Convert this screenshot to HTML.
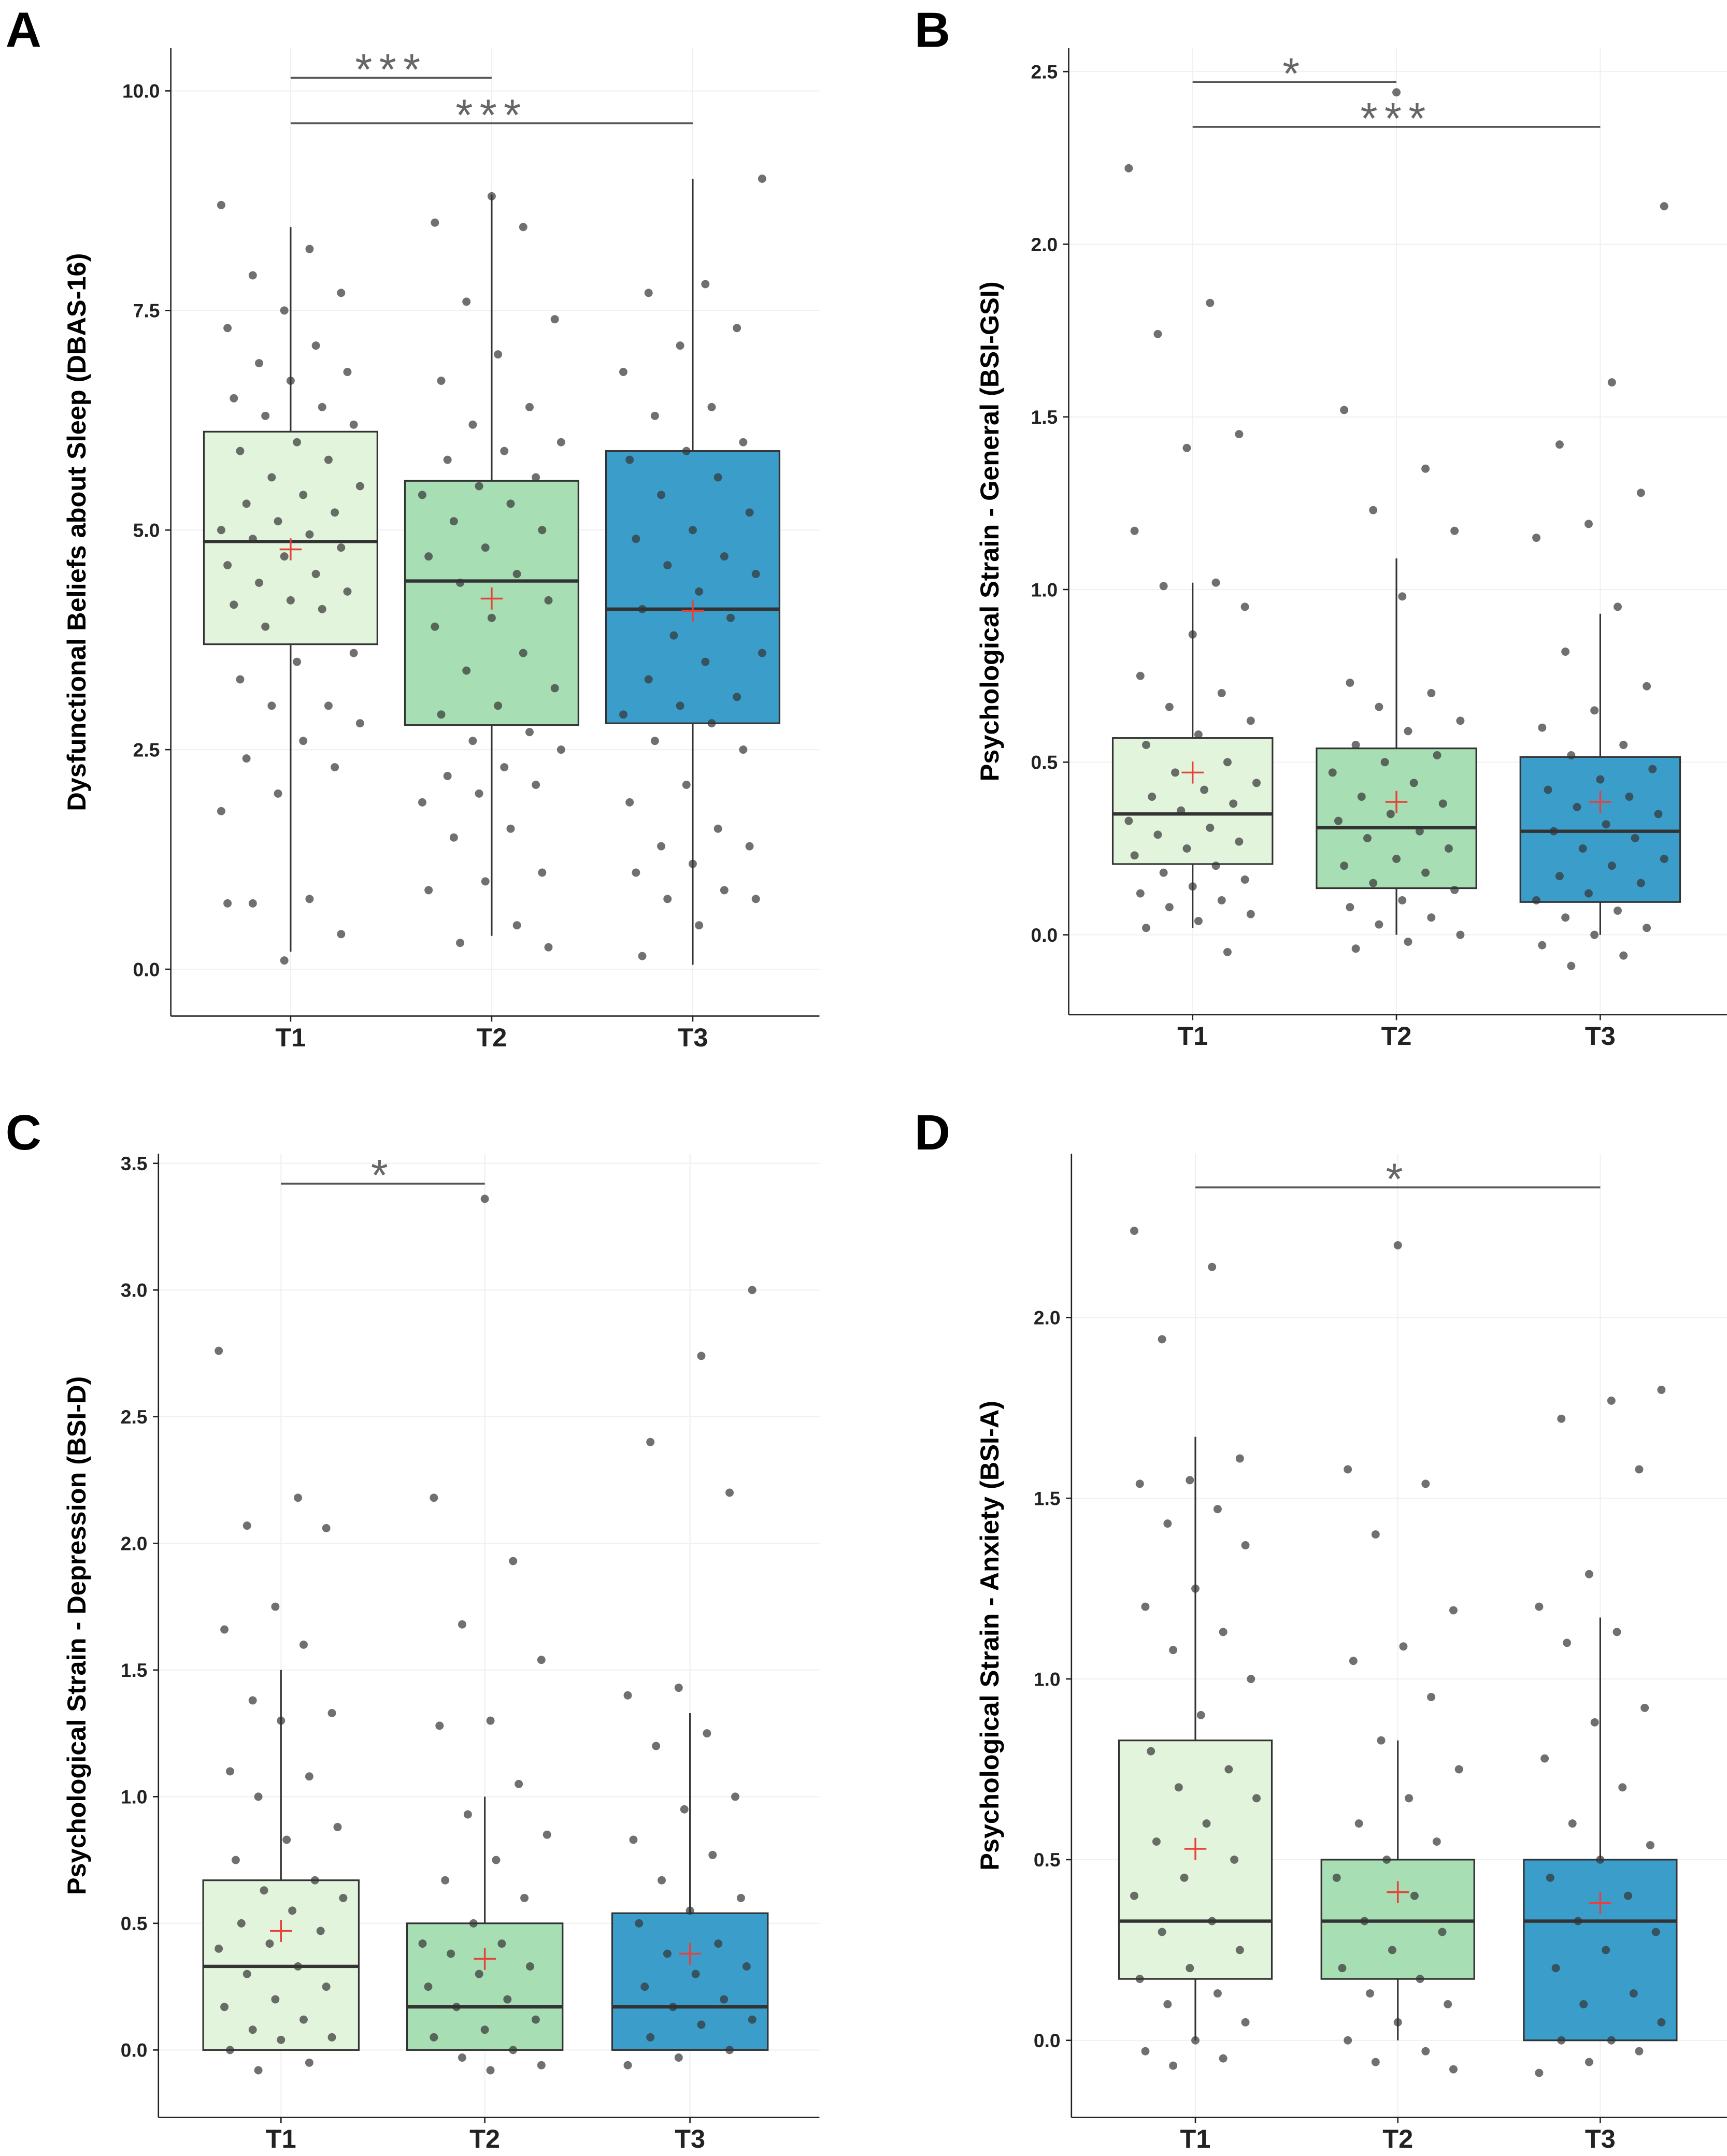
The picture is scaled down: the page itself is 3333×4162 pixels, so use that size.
<!DOCTYPE html>
<html><head><meta charset="utf-8">
<style>
html,body{margin:0;padding:0;background:#fff;}
svg{display:block;}
text{font-family:"Liberation Sans",sans-serif;}
</style></head>
<body>
<svg id="chart" width="3333" height="4162" viewBox="0 0 1254 1566" xmlns="http://www.w3.org/2000/svg"></svg>
<script>
// ---- data ----
const categories = ["T1","T2","T3"];
const fills = ["#e2f5dc","#a7deb4","#3b9dca"];

// Panel A: DBAS-16
const aTicks = [0,2.5,5,7.5,10];
const aTickLabels = ["0.0","2.5","5.0","7.5","10.0"];
const aQ1 = [3.7,2.78,2.8];
const aMedian = [4.87,4.42,4.1];
const aQ3 = [6.12,5.56,5.9];
const aWhiskLo = [0.2,0.38,0.05];
const aWhiskHi = [8.45,8.82,9.0];
const aMean = [4.78,4.22,4.08];
const aPtsT1 = [8.7,8.2,7.9,7.7,7.5,7.3,7.1,6.9,6.8,6.7,6.5,6.4,6.3,6.2,6.0,5.9,5.8,5.6,5.5,5.4,5.3,5.2,5.1,5.0,4.95,4.9,4.8,4.7,4.6,4.5,4.4,4.3,4.2,4.15,4.1,3.9,3.6,3.5,3.3,3.0,3.0,2.8,2.6,2.4,2.3,2.0,1.8,0.8,0.75,0.4,0.1,0.75];
const aPtsT2 = [8.8,8.5,8.45,7.6,7.4,7.0,6.7,6.4,6.2,6.0,5.9,5.8,5.6,5.5,5.4,5.3,5.1,5.0,4.8,4.7,4.5,4.4,4.2,4.0,3.9,3.6,3.4,3.2,3.0,2.9,2.7,2.6,2.5,2.3,2.2,2.1,2.0,1.9,1.6,1.5,1.1,1.0,0.9,0.5,0.3,0.25];
const aPtsT3 = [9.0,7.8,7.7,7.3,7.1,6.8,6.4,6.3,6.0,5.9,5.8,5.6,5.4,5.2,5.0,4.9,4.7,4.6,4.5,4.3,4.1,4.0,3.8,3.6,3.5,3.3,3.1,3.0,2.9,2.8,2.6,2.5,2.1,1.9,1.6,1.4,1.4,1.2,1.1,0.9,0.8,0.8,0.5,0.15];
const aSig = [[0,1,10.15,"***"],[0,2,9.63,"***"]];

// Panel B: BSI-GSI
const bTicks = [0,0.5,1,1.5,2,2.5];
const bTickLabels = ["0.0","0.5","1.0","1.5","2.0","2.5"];
const bQ1 = [0.205,0.135,0.095];
const bMedian = [0.35,0.31,0.30];
const bQ3 = [0.57,0.54,0.515];
const bWhiskLo = [0.02,0.0,0.0];
const bWhiskHi = [1.02,1.09,0.93];
const bMean = [0.47,0.385,0.385];
const bPtsT1 = [2.22,1.83,1.74,1.45,1.41,1.17,1.02,1.01,0.95,0.87,0.75,0.7,0.66,0.62,0.58,0.55,0.5,0.47,0.44,0.42,0.4,0.38,0.36,0.33,0.31,0.29,0.27,0.25,0.23,0.2,0.18,0.16,0.14,0.12,0.1,0.08,0.06,0.04,0.02,-0.05];
const bPtsT2 = [2.44,1.52,1.35,1.23,1.17,0.98,0.73,0.7,0.66,0.62,0.59,0.55,0.52,0.5,0.47,0.44,0.4,0.38,0.35,0.33,0.3,0.28,0.25,0.22,0.2,0.18,0.15,0.13,0.1,0.08,0.05,0.03,0.0,-0.02,-0.04];
const bPtsT3 = [2.11,1.6,1.42,1.28,1.19,1.15,0.95,0.82,0.72,0.65,0.6,0.55,0.52,0.48,0.45,0.42,0.4,0.37,0.35,0.32,0.3,0.28,0.25,0.22,0.2,0.17,0.15,0.12,0.1,0.07,0.05,0.02,0.0,-0.03,-0.06,-0.09];
const bSig = [[0,1,2.47,"*"],[0,2,2.34,"***"]];

// Panel C: BSI-D
const cTicks = [0,0.5,1,1.5,2,2.5,3,3.5];
const cTickLabels = ["0.0","0.5","1.0","1.5","2.0","2.5","3.0","3.5"];
const cQ1 = [0,0,0];
const cMedian = [0.33,0.17,0.17];
const cQ3 = [0.67,0.5,0.54];
const cWhiskLo = [0,0,0];
const cWhiskHi = [1.5,1.0,1.33];
const cMean = [0.47,0.36,0.38];
const cPtsT1 = [2.76,2.18,2.07,2.06,1.75,1.66,1.6,1.38,1.33,1.3,1.1,1.08,1.0,0.88,0.83,0.75,0.67,0.63,0.6,0.55,0.5,0.47,0.42,0.4,0.33,0.3,0.25,0.2,0.17,0.12,0.08,0.05,0.04,0.0,-0.05,-0.08];
const cPtsT2 = [3.36,2.18,1.93,1.68,1.54,1.3,1.28,1.05,0.93,0.85,0.75,0.67,0.6,0.5,0.42,0.42,0.38,0.33,0.3,0.25,0.2,0.17,0.12,0.08,0.05,0.0,-0.03,-0.06,-0.08];
const cPtsT3 = [3.0,2.74,2.4,2.2,1.43,1.4,1.25,1.2,1.0,0.95,0.83,0.77,0.67,0.6,0.55,0.5,0.42,0.38,0.33,0.3,0.25,0.2,0.17,0.12,0.1,0.05,0.0,-0.03,-0.06];
const cSig = [[0,1,3.42,"*"]];

// Panel D: BSI-A
const dTicks = [0,0.5,1,1.5,2];
const dTickLabels = ["0.0","0.5","1.0","1.5","2.0"];
const dQ1 = [0.17,0.17,0];
const dMedian = [0.33,0.33,0.33];
const dQ3 = [0.83,0.5,0.5];
const dWhiskLo = [0,0,0];
const dWhiskHi = [1.67,0.83,1.17];
const dMean = [0.53,0.41,0.38];
const dPtsT1 = [2.24,2.14,1.94,1.61,1.55,1.54,1.47,1.43,1.37,1.25,1.2,1.13,1.08,1.0,0.9,0.8,0.75,0.7,0.67,0.6,0.55,0.5,0.45,0.4,0.33,0.3,0.25,0.2,0.17,0.13,0.1,0.05,0.0,-0.03,-0.05,-0.07];
const dPtsT2 = [2.2,1.58,1.54,1.4,1.19,1.09,1.05,0.95,0.83,0.75,0.67,0.6,0.55,0.5,0.45,0.4,0.33,0.3,0.25,0.2,0.17,0.13,0.1,0.05,0.0,-0.03,-0.06,-0.08];
const dPtsT3 = [1.8,1.77,1.72,1.58,1.29,1.2,1.13,1.1,0.92,0.88,0.78,0.7,0.6,0.54,0.5,0.45,0.4,0.33,0.3,0.25,0.2,0.13,0.1,0.05,0.0,0.0,-0.03,-0.06,-0.09];
const dSig = [[0,2,2.36,"*"]];

// ---- layout ----
const NS = "http://www.w3.org/2000/svg";
const svg = document.getElementById("chart");
function mk(tag, attrs, parent){
  const e = document.createElementNS(NS, tag);
  for (const k in attrs) e.setAttribute(k, attrs[k]);
  (parent||svg).appendChild(e);
  return e;
}

const panels = [
 {id:"a",letter:"A",lx:4,ly:34,axX:124,top:35,bottom:738,right:595,v0:0,p0:704,v1:10,p1:66,cx:[211,357,503],bw:126,
  ylabel:"Dysfunctional Beliefs about Sleep (DBAS-16)",ylx:62,
  ticks:aTicks,tl:aTickLabels,q1:aQ1,med:aMedian,q3:aQ3,wl:aWhiskLo,wh:aWhiskHi,mean:aMean,pts:[aPtsT1,aPtsT2,aPtsT3],sig:aSig},
 {id:"b",letter:"B",lx:664,ly:34,axX:776,top:35,bottom:737,right:1254,v0:0,p0:679,v1:2.5,p1:52,cx:[866,1014,1162],bw:116,
  ylabel:"Psychological Strain - General (BSI-GSI)",ylx:725,
  ticks:bTicks,tl:bTickLabels,q1:bQ1,med:bMedian,q3:bQ3,wl:bWhiskLo,wh:bWhiskHi,mean:bMean,pts:[bPtsT1,bPtsT2,bPtsT3],sig:bSig},
 {id:"c",letter:"C",lx:4,ly:835,axX:115,top:838,bottom:1538,right:595,v0:0,p0:1489,v1:3.5,p1:845,cx:[204,352,501],bw:113,
  ylabel:"Psychological Strain - Depression (BSI-D)",ylx:62,
  ticks:cTicks,tl:cTickLabels,q1:cQ1,med:cMedian,q3:cQ3,wl:cWhiskLo,wh:cWhiskHi,mean:cMean,pts:[cPtsT1,cPtsT2,cPtsT3],sig:cSig},
 {id:"d",letter:"D",lx:664,ly:835,axX:778,top:838,bottom:1538,right:1254,v0:0,p0:1482,v1:2,p1:957,cx:[868,1015,1162],bw:111,
  ylabel:"Psychological Strain - Anxiety (BSI-A)",ylx:725,
  ticks:dTicks,tl:dTickLabels,q1:dQ1,med:dMedian,q3:dQ3,wl:dWhiskLo,wh:dWhiskHi,mean:dMean,pts:[dPtsT1,dPtsT2,dPtsT3],sig:dSig}
];

panels.forEach(P=>{
  const y = v => P.p0 + (v - P.v0) * (P.p1 - P.p0) / (P.v1 - P.v0);
  const g = mk("g",{});
  
  

  const L = mk("text",{x:P.lx,y:P.ly,"font-size":36,"font-weight":"bold",fill:"#000"},g);
  L.textContent = P.letter;
  
  

  P.ticks.forEach(t=>{
    const gl = mk("line",{x1:P.axX,x2:P.right,y1:y(t),y2:y(t),stroke:"#f0f0f0","stroke-width":0.8},g);
    
    
  });
  P.cx.forEach(cx=>{
    const gl = mk("line",{x1:cx,x2:cx,y1:P.top,y2:P.bottom,stroke:"#f0f0f0","stroke-width":0.8},g);
    
    
  });

  const ya = mk("line",{x1:P.axX,x2:P.axX,y1:P.top,y2:P.bottom,stroke:"#222","stroke-width":1},g);
  
  
  const xa = mk("line",{x1:P.axX,x2:P.right,y1:P.bottom,y2:P.bottom,stroke:"#222","stroke-width":1},g);
  
  

  P.ticks.forEach((t,i)=>{
    const tk = mk("line",{x1:P.axX-4,x2:P.axX,y1:y(t),y2:y(t),stroke:"#222","stroke-width":1},g);
    
    
    const tl = mk("text",{x:P.axX-8,y:y(t)+5,"font-size":14,"font-weight":"bold","text-anchor":"end",fill:"#222"},g);
    tl.textContent = P.tl[i];
    
    
  });
  categories.forEach((c,i)=>{
    const tk = mk("line",{x1:P.cx[i],x2:P.cx[i],y1:P.bottom,y2:P.bottom+4,stroke:"#222","stroke-width":1},g);
    
    
    const tl = mk("text",{x:P.cx[i],y:P.bottom+22,"font-size":19,"font-weight":"bold","text-anchor":"middle",fill:"#222"},g);
    tl.textContent = c;
    
    
  });
  const mid = (P.top+P.bottom)/2;
  const yl = mk("text",{x:P.ylx,y:mid,"font-size":19,"font-weight":"bold","text-anchor":"middle",fill:"#000",transform:`rotate(-90 ${P.ylx} ${mid})`},g);
  yl.textContent = P.ylabel;
  
  

  categories.forEach((c,i)=>{
    const cx = P.cx[i], hw = P.bw/2;
    const wk = mk("line",{x1:cx,x2:cx,y1:y(P.wl[i]),y2:y(P.wh[i]),stroke:"#333","stroke-width":1.2},g);
    
    
    const bx = mk("rect",{x:cx-hw,y:y(P.q3[i]),width:P.bw,height:y(P.q1[i])-y(P.q3[i]),fill:fills[i],stroke:"#333","stroke-width":1.2},g);
    
    
    const md = mk("line",{x1:cx-hw,x2:cx+hw,y1:y(P.med[i]),y2:y(P.med[i]),stroke:"#333","stroke-width":2.4},g);
    
    
  });
  P.pts.forEach((arr,i)=>{
    arr.forEach((v,j)=>{
      const off = (((j*37+i*11)%23)/22 - 0.5) * P.bw * 0.8;
      const pt = mk("circle",{cx:P.cx[i]+off,cy:y(v),r:3,fill:"#333","fill-opacity":0.7},g);
      
      
    });
  });
  P.mean.forEach((m,i)=>{
    const cx = P.cx[i], cy = y(m);
    const mp = mk("path",{d:`M${cx-8},${cy}H${cx+8}M${cx},${cy-8}V${cy+8}`,stroke:"#e8413c","stroke-width":1.3,fill:"none"},g);
    
    
  });
  P.sig.forEach(s=>{
    const sy = y(s[2]);
    const bl = mk("line",{x1:P.cx[s[0]],x2:P.cx[s[1]],y1:sy,y2:sy,stroke:"#555","stroke-width":1.4},g);
    
    
    const st = mk("text",{x:(P.cx[s[0]]+P.cx[s[1]])/2,y:sy+5,"font-size":32,"text-anchor":"middle",fill:"#666","letter-spacing":5},g);
    st.textContent = s[3];
    
    
  });
});
</script>
</body></html>
